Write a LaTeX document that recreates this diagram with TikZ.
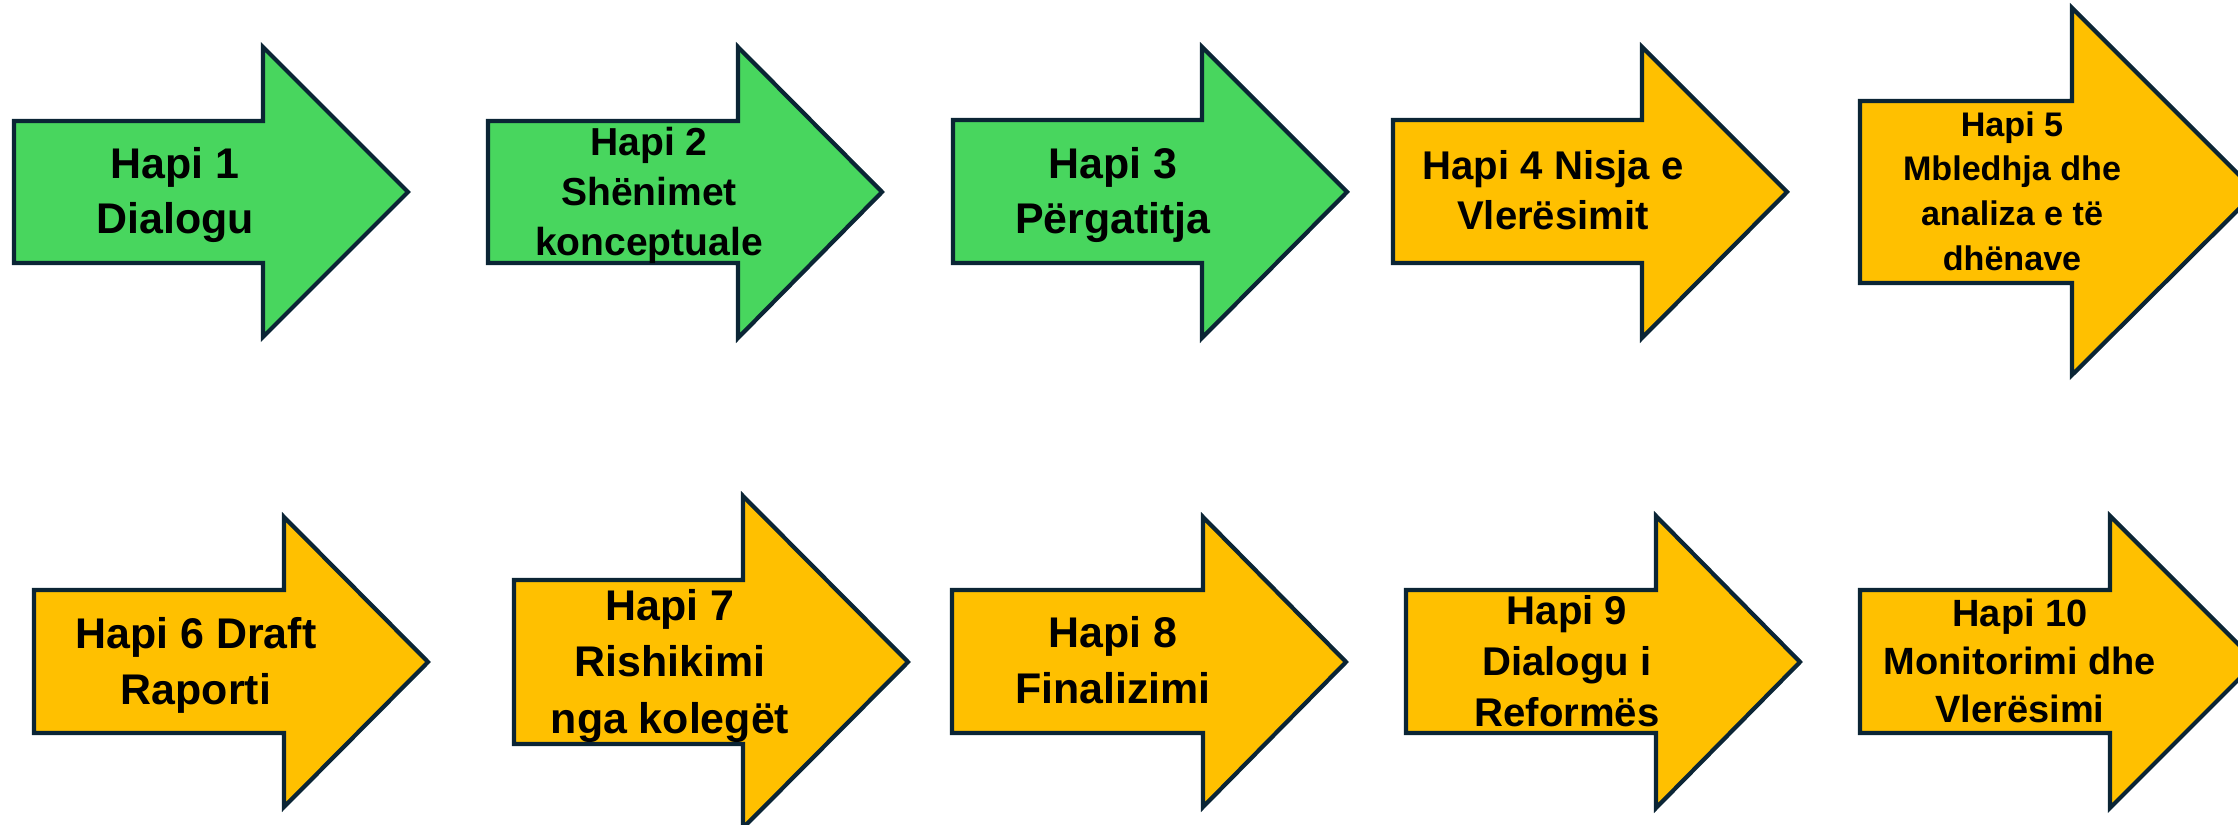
\documentclass[tikz,border=0pt]{standalone}
\usepackage{fontspec}
\setmainfont{Liberation Sans}
\usepackage{tikz}
\definecolor{stepgreen}{RGB}{72,214,94}
\definecolor{stepgold}{RGB}{255,192,0}
\definecolor{stepedge}{RGB}{11,37,53}

\begin{document}
\begin{tikzpicture}[x=0.01cm,y=-0.01cm,
  green arrow/.style={draw=stepedge,line width=1.2pt,fill=stepgreen},
  gold arrow/.style={draw=stepedge,line width=1.2pt,fill=stepgold},
  step text/.style={align=center,inner sep=0pt,text=black}]

  \useasboundingbox (0,0) rectangle (2238,825);

  % first row
  \draw[green arrow] (14,121) -- (263,121) -- (263,47) -- (408,192) -- (263,337) -- (263,263) -- (14,263) -- cycle;
  \draw[green arrow] (488,121) -- (738,121) -- (738,47) -- (882,192) -- (738,338) -- (738,263) -- (488,263) -- cycle;
  \draw[green arrow] (953,120) -- (1202,120) -- (1202,47) -- (1347,192) -- (1202,338) -- (1202,263) -- (953,263) -- cycle;
  \draw[gold arrow] (1393,120) -- (1642,120) -- (1642,47) -- (1787,192) -- (1642,338) -- (1642,263) -- (1393,263) -- cycle;
  \draw[gold arrow] (1860,101) -- (2072,101) -- (2072,8) -- (2256,192) -- (2072,375) -- (2072,283) -- (1860,283) -- cycle;

  \node[step text,font={\fontsize{12.2}{15.9}\selectfont\bfseries}] (h1) at (175,195) {Hapi 1\\Dialogu};
  \node[step text,font={\fontsize{11.1}{14.2}\selectfont\bfseries}] (h2) at (649,195) {Hapi 2\\Shënimet\\konceptuale};
  \node[step text,font={\fontsize{12.2}{15.9}\selectfont\bfseries}] (h3) at (1113,195) {Hapi 3\\Përgatitja};
  \node[step text,font={\fontsize{11.4}{14.2}\selectfont\bfseries}] (h4) at (1553,190) {Hapi 4 Nisja e\\Vlerësimit};
  \node[step text,font={\fontsize{9.7}{12.7}\selectfont\bfseries}] (h5) at (2012,191) {Hapi 5\\Mbledhja dhe\\analiza e të\\dhënave};

  % second row
  \draw[gold arrow] (34,590) -- (284,590) -- (284,517) -- (428,662) -- (284,807) -- (284,733) -- (34,733) -- cycle;
  \draw[gold arrow] (514,580) -- (743,580) -- (743,496) -- (908,662) -- (743,828) -- (743,744) -- (514,744) -- cycle;
  \draw[gold arrow] (952,590) -- (1203,590) -- (1203,517) -- (1346,662) -- (1203,807) -- (1203,733) -- (952,733) -- cycle;
  \draw[gold arrow] (1406,590) -- (1656,590) -- (1656,516) -- (1800,662) -- (1656,808) -- (1656,733) -- (1406,733) -- cycle;
  \draw[gold arrow] (1860,590) -- (2110,590) -- (2110,516) -- (2256,662) -- (2110,808) -- (2110,733) -- (1860,733) -- cycle;

  \node[step text,font={\fontsize{12.2}{15.9}\selectfont\bfseries}] (h6) at (196,665) {Hapi 6 Draft\\Raporti};
  \node[step text,font={\fontsize{12.2}{16.2}\selectfont\bfseries}] (h7) at (670,666) {Hapi 7\\Rishikimi\\nga kolegët};
  \node[step text,font={\fontsize{12.2}{15.9}\selectfont\bfseries}] (h8) at (1113,660) {Hapi 8\\Finalizimi};
  \node[step text,font={\fontsize{11.4}{14.5}\selectfont\bfseries}] (h9) at (1567,661) {Hapi 9\\Dialogu i\\Reformës};
  \node[step text,font={\fontsize{10.8}{13.7}\selectfont\bfseries}] (h10) at (2020,661) {Hapi 10\\Monitorimi dhe\\Vlerësimi};

\end{tikzpicture}
\end{document}
